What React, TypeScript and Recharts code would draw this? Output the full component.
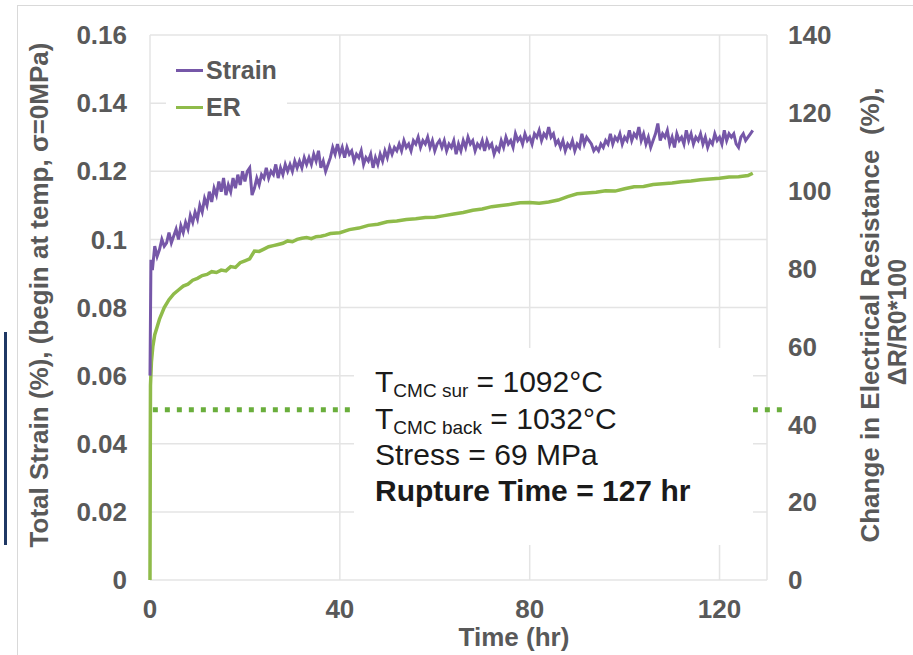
import { LineChart, Line, XAxis, YAxis, CartesianGrid, ReferenceLine } from 'recharts';

// time (hr) for the strain trace
const strainTime = [
  0, 0.2, 0.5,
  1, 1.5, 2, 2.5, 3, 3.5, 4, 4.5, 5, 5.5, 6, 6.5, 7, 7.5, 8, 8.5, 9, 9.5, 10, 10.5,
  11, 11.5, 12, 12.5, 13, 13.5, 14, 14.5, 15, 15.5, 16, 16.5, 17, 17.5, 18, 18.5, 19, 19.5, 20, 20.5,
  21, 21.5, 22, 22.5, 23, 23.5, 24, 24.5, 25, 25.5, 26, 26.5, 27, 27.5, 28, 28.5, 29, 29.5, 30, 30.5,
  31, 31.5, 32, 32.5, 33, 33.5, 34, 34.5, 35, 35.5, 36, 36.5, 37, 37.5, 38, 38.5, 39, 39.5, 40, 40.5,
  41, 41.5, 42, 42.5, 43, 43.5, 44, 44.5, 45, 45.5, 46, 46.5, 47, 47.5, 48, 48.5, 49, 49.5, 50, 50.5,
  51, 51.5, 52, 52.5, 53, 53.5, 54, 54.5, 55, 55.5, 56, 56.5, 57, 57.5, 58, 58.5, 59, 59.5, 60, 60.5,
  61, 61.5, 62, 62.5, 63, 63.5, 64, 64.5, 65, 65.5, 66, 66.5, 67, 67.5, 68, 68.5, 69, 69.5, 70, 70.5,
  71, 71.5, 72, 72.5, 73, 73.5, 74, 74.5, 75, 75.5, 76, 76.5, 77, 77.5, 78, 78.5, 79, 79.5, 80, 80.5,
  81, 81.5, 82, 82.5, 83, 83.5, 84, 84.5, 85, 85.5, 86, 86.5, 87, 87.5, 88, 88.5, 89, 89.5, 90, 90.5,
  91, 91.5, 92, 92.5, 93, 93.5, 94, 94.5, 95, 95.5, 96, 96.5, 97, 97.5, 98, 98.5, 99, 99.5, 100, 100.5,
  101, 101.5, 102, 102.5, 103, 103.5, 104, 104.5, 105, 105.5, 106, 106.5, 107, 107.5, 108, 108.5, 109, 109.5, 110, 110.5,
  111, 111.5, 112, 112.5, 113, 113.5, 114, 114.5, 115, 115.5, 116, 116.5, 117, 117.5, 118, 118.5, 119, 119.5, 120, 120.5,
  121, 121.5, 122, 122.5, 123, 123.5, 124, 124.5, 125, 125.5, 126, 126.5, 127,
];
// total strain (%)
const strainValues = [
  0.06, 0.094, 0.091,
  0.098, 0.095, 0.097, 0.1, 0.098, 0.099, 0.102, 0.099, 0.101, 0.103, 0.1, 0.104, 0.102, 0.105, 0.103, 0.107, 0.105, 0.108, 0.106, 0.11,
  0.108, 0.112, 0.11, 0.114, 0.111, 0.115, 0.113, 0.117, 0.114, 0.118, 0.113, 0.116, 0.114, 0.118, 0.115, 0.119, 0.116, 0.12, 0.117, 0.12,
  0.121, 0.113, 0.115, 0.118, 0.116, 0.119, 0.118, 0.121, 0.118, 0.12, 0.119, 0.122, 0.118, 0.121, 0.119, 0.122, 0.12, 0.122, 0.12, 0.123,
  0.121, 0.123, 0.121, 0.124, 0.122, 0.124, 0.122, 0.125, 0.123, 0.126, 0.121, 0.123, 0.12, 0.122, 0.124, 0.127, 0.125, 0.128, 0.125, 0.127,
  0.124, 0.127, 0.125, 0.126, 0.123, 0.125, 0.124, 0.126, 0.122, 0.124, 0.123, 0.125, 0.121, 0.124, 0.122, 0.125, 0.123, 0.126, 0.124, 0.127,
  0.125, 0.127, 0.126, 0.128, 0.126, 0.129, 0.127, 0.128, 0.126, 0.129, 0.128, 0.13, 0.127, 0.129, 0.128, 0.13, 0.127, 0.129, 0.126, 0.128,
  0.129, 0.127, 0.129, 0.126, 0.128, 0.127, 0.129, 0.125, 0.128, 0.126, 0.129, 0.127, 0.13, 0.128, 0.129, 0.126, 0.128, 0.127, 0.129, 0.126,
  0.129, 0.127, 0.128, 0.125, 0.127, 0.126, 0.129, 0.127, 0.13, 0.128, 0.129, 0.127, 0.131, 0.129, 0.13, 0.128, 0.131, 0.129, 0.13, 0.128,
  0.131, 0.13, 0.132, 0.129, 0.131, 0.13, 0.133, 0.13, 0.131, 0.128, 0.129, 0.127, 0.129, 0.126, 0.128, 0.127, 0.129, 0.126, 0.128, 0.127,
  0.131, 0.128, 0.13, 0.129, 0.128, 0.126, 0.127, 0.126, 0.128, 0.127, 0.129, 0.128, 0.131, 0.128, 0.13, 0.129, 0.131, 0.128, 0.13, 0.129,
  0.132, 0.129, 0.131, 0.13, 0.133, 0.129, 0.131, 0.128, 0.13, 0.127, 0.129, 0.131, 0.134, 0.129, 0.131, 0.13, 0.132, 0.128, 0.13, 0.127,
  0.131, 0.129, 0.13, 0.128, 0.132, 0.129, 0.131, 0.128, 0.13, 0.129, 0.131, 0.128, 0.13, 0.127, 0.129, 0.128, 0.131, 0.129, 0.13, 0.128,
  0.132, 0.129, 0.131, 0.13, 0.131, 0.128, 0.127, 0.13, 0.131, 0.129, 0.13, 0.131, 0.132,
];

// time (hr) for the electrical resistance trace
const erTime = [
  0, 0.05, 0.1, 0.3, 0.6, 1, 1.5, 2, 3, 4, 5, 6, 7, 8, 9, 10, 11, 12, 13, 14, 15, 16, 17, 18, 19, 20,
  21, 22, 23, 24, 25, 26, 27, 28, 29, 30, 31, 32, 33, 34, 35, 36, 37, 38, 40, 42, 44, 46, 48, 50,
  52, 54, 56, 58, 60, 62, 64, 66, 68, 70, 72, 74, 76, 78, 80, 82, 84, 86, 88, 90, 92, 94, 96, 98, 100,
  102, 104, 106, 108, 110, 112, 114, 116, 118, 120, 122, 124, 126, 127,
];
// change in electrical resistance (%)
const erValues = [
  0, 30, 50, 56, 60, 63, 65, 67, 70, 72, 73.5, 74.5, 75.5, 76, 77, 77.5, 78.2, 78.5, 79.2, 79, 79.6, 79.4, 80.5, 80.3, 81.5, 82,
  82.5, 84.5, 84.4, 85, 85.6, 85.9, 86.2, 86.5, 87.1, 86.9, 87.5, 87.8, 88, 87.7, 88.2, 88.3, 88.6, 89, 89.2, 90, 90.4, 91.1, 91.4, 92,
  92.2, 92.6, 92.8, 93.1, 93.2, 93.6, 94, 94.4, 95, 95.3, 95.9, 96.2, 96.5, 96.9, 97, 96.8, 97.1, 97.6, 98.5, 99.2, 99.4, 99.6, 100, 99.9, 100.5,
  101, 101.1, 101.6, 101.8, 102, 102.3, 102.5, 102.8, 103, 103.2, 103.5, 103.6, 103.9, 104.5,
];

const timeTicks = [0, 40, 80, 120];
const strainTicks = [0, 0.02, 0.04, 0.06, 0.08, 0.1, 0.12, 0.14, 0.16];
const erTicks = [0, 20, 40, 60, 80, 100, 120, 140];
const thresholdStrain = 0.05;
const seriesNames = ['Strain', 'ER'];

const strainData = strainTime.map((t, i) => ({ t, strain: strainValues[i] }));
const erData = erTime.map((t, i) => ({ t, er: erValues[i] }));

const PURPLE = '#7657a8';
const GREEN = '#8fbb4a';
const DOTTED = '#6aae3c';
const GREY = '#595959';
const FONT = '"Liberation Sans", Arial, sans-serif';

const tickStyle = { fill: GREY, fontSize: 26, fontWeight: 700, fontFamily: FONT };

const LegendBox = () => (
  <div
    style={{
      position: 'absolute',
      left: 166,
      top: 50,
      background: '#fff',
      padding: '2px 10px 4px 10px',
      fontFamily: FONT,
    }}
  >
    {seriesNames.map((name, i) => (
      <div key={name} style={{ display: 'flex', alignItems: 'center', height: 37 }}>
        <span
          style={{
            display: 'inline-block',
            width: 27,
            height: 2.5,
            background: i === 0 ? PURPLE : GREEN,
            marginRight: 3,
          }}
        />
        <span style={{ fontSize: 25, fontWeight: 700, color: GREY }}>{name}</span>
      </div>
    ))}
  </div>
);

export default function App() {
  return (
    <div style={{ position: 'relative', width: 913, height: 655, overflow: 'hidden', background: '#fff' }}>
      <style>{`body{margin:0}`}</style>
      <div
        style={{
          position: 'absolute',
          left: 17,
          top: 5,
          width: 950,
          height: 700,
          borderTop: '1.5px solid #d9d9d9',
          borderLeft: '1.5px solid #d9d9d9',
        }}
      />
      <div style={{ position: 'absolute', left: 4, top: 332, width: 3, height: 213, background: '#1f3864' }} />
      <LineChart width={913} height={655} margin={{ top: 35, right: 0, bottom: 0, left: 0 }}>
        <CartesianGrid yAxisId="strain" stroke="#e4e4e4" strokeWidth={1.5} />
        <XAxis
          type="number"
          dataKey="t"
          domain={[0, 130]}
          ticks={timeTicks}
          height={75}
          axisLine={false}
          tickLine={false}
          tickSize={0}
          tickMargin={20}
          tick={tickStyle}
          allowDuplicatedCategory={false}
        />
        <YAxis
          yAxisId="strain"
          orientation="left"
          width={150}
          domain={[0, 0.16]}
          ticks={strainTicks}
          axisLine={false}
          tickLine={false}
          tickSize={0}
          tickMargin={23}
          tick={tickStyle}
        />
        <YAxis
          yAxisId="er"
          orientation="right"
          width={146}
          domain={[0, 140]}
          ticks={erTicks}
          axisLine={false}
          tickLine={false}
          tickSize={0}
          tickMargin={21}
          tick={tickStyle}
        />
        <ReferenceLine
          yAxisId="strain"
          segment={[{ x: 0.6, y: thresholdStrain }, { x: 133.4, y: thresholdStrain }]}
          ifOverflow="visible"
          stroke={DOTTED}
          strokeWidth={5}
          strokeDasharray="5 7"
        />
        <Line
          data={erData}
          dataKey="er"
          yAxisId="er"
          type="linear"
          stroke={GREEN}
          strokeWidth={3.5}
          dot={false}
          isAnimationActive={false}
        />
        <Line
          data={strainData}
          dataKey="strain"
          yAxisId="strain"
          type="linear"
          stroke={PURPLE}
          strokeWidth={3}
          dot={false}
          isAnimationActive={false}
        />
      </LineChart>

      <LegendBox />

      {/* annotation box */}
      <div style={{ position: 'absolute', left: 354, top: 348, width: 399, height: 197, background: '#fff' }} />
      <svg width={913} height={655} style={{ position: 'absolute', left: 0, top: 0, pointerEvents: 'none' }}>
        <g fontFamily={FONT} fill="#1a1a1a">
          <text x={375} y={392} fontSize={30}>
            T<tspan fontSize={19} dy={5}>CMC sur</tspan>
            <tspan fontSize={30} dy={-5}> = 1092°C</tspan>
          </text>
          <text x={375} y={429} fontSize={30}>
            T<tspan fontSize={19} dy={5}>CMC back</tspan>
            <tspan fontSize={30} dy={-5}> = 1032°C</tspan>
          </text>
          <text x={375} y={465} fontSize={30}>Stress = 69 MPa</text>
          <text x={375} y={501} fontSize={30} fontWeight={700}>Rupture Time = 127 hr</text>
        </g>
        <g fontFamily={FONT} fill={GREY} fontWeight={700} fontSize={26}>
          <text x={514} y={646} textAnchor="middle">Time (hr)</text>
          <text transform="translate(48,295) rotate(-90)" textAnchor="middle">
            Total Strain (%), (begin at temp, σ=0MPa)
          </text>
          <text transform="translate(879,315) rotate(-90)" textAnchor="middle" xmlSpace="preserve">
            Change in Electrical Resistance  (%),
          </text>
          <text transform="translate(906,322) rotate(-90)" textAnchor="middle" fontSize={25}>
            ΔR/R0*100
          </text>
        </g>
      </svg>
    </div>
  );
}
